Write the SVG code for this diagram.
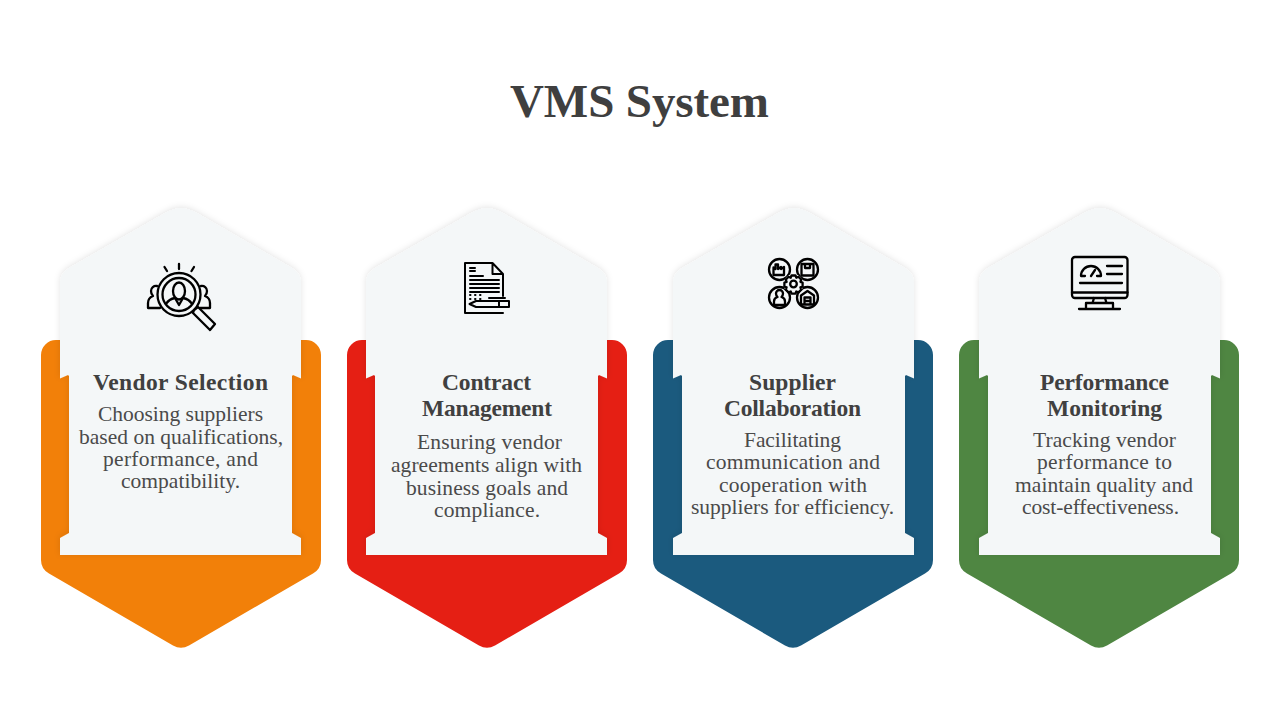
<svg xmlns="http://www.w3.org/2000/svg" xmlns:xlink="http://www.w3.org/1999/xlink" width="1280" height="720" viewBox="0 0 1280 720">
<style>
text{font-family:"Liberation Serif","Times New Roman",serif;text-anchor:middle}
.t{font-size:47px;font-weight:700;fill:#3f3f3f}
.h{font-size:23.5px;font-weight:700;fill:#404040}
.b{font-size:21.5px;fill:#4a4a4a}
.i{fill:none;stroke:#000;stroke-width:2.3;stroke-linecap:round;stroke-linejoin:round}
</style>
<defs>
<filter id="sh" x="-15%" y="-15%" width="130%" height="130%"><feDropShadow dx="0" dy="-1" stdDeviation="3" flood-color="#000" flood-opacity="0.11"/></filter>
<path id="back" d="M41 355a15 15 0 0 1 15-15H306a15 15 0 0 1 15 15V560q0 9-8 13.500L189 645.500q-8 4.500-16 0L49 573.500q-8-4.500-8-13.500Z"/>
<path id="front" d="M166 212.500Q181 204 196 212.500L292 268q9 5.500 9 15V378.500L293 375 292 376V533L301 538V555H60V538L69 533V376L68 375 60 378.500V283q0-9.500 9-15Z"/>
</defs>
<text class="t" x="639.500" y="117" textLength="259">VMS System</text>

<g id="node-vendor-selection">
<use xlink:href="#back" href="#back" fill="#f28009"/>
<use xlink:href="#front" href="#front" fill="#f4f7f8" filter="url(#sh)"/>
<g class="i">
<path d="M179 264v5M164.500 267l2.500 4M194 267l-2.500 4"/>
<circle cx="179" cy="294.500" r="21.500"/><circle cx="179" cy="294.500" r="16.500"/>
<ellipse cx="179" cy="291" rx="6" ry="8.500"/>
<path d="M166 304q3-5 9-6l4 7 4-7q6 1 9 6"/>
<path d="M194 310l4-3 17 17-5 6-17-17Z"/>
<path d="M157 286a5 5 0 0 0-6 5q0 3 2 5q-5 2-5 7v5h12M201 286a5 5 0 0 1 6 5q0 3-2 5q5 2 5 7v5h-10"/>
</g>
<text class="h" x="180.500" y="390" textLength="175">Vendor Selection</text>
<text class="b" x="180.500" y="421" textLength="165">Choosing suppliers</text>
<text class="b" x="181" y="444" textLength="204">based on qualifications,</text>
<text class="b" x="180.500" y="466" textLength="155">performance, and</text>
<text class="b" x="180.500" y="488" textLength="119">compatibility.</text>
</g>

<g id="node-contract-management">
<use xlink:href="#back" href="#back" x="306" fill="#e51f14"/>
<use xlink:href="#front" href="#front" x="306" fill="#f4f7f8" filter="url(#sh)"/>
<g class="i" style="stroke-width:2">
<path d="M492.500 263H465V313H503M503 274V296M492.500 263L503 274H492.500Z"/>
<path d="M470 268h5M470 271h5M470 276h13M470 280h29M470 284h29M470 288h29M470 292h29M470 295h.5M475 295h.5M480 295h.5M470 299h.5M475 299h.5M480 299h.5M489 298h16"/>
<path d="M476 301H509V307H476L469.500 304ZM499 301V307"/>
</g>
<text class="h" x="486.500" y="390" textLength="89">Contract</text>
<text class="h" x="487" y="416" textLength="130">Management</text>
<text class="b" x="489.500" y="449" textLength="145">Ensuring vendor</text>
<text class="b" x="486.500" y="472" textLength="191">agreements align with</text>
<text class="b" x="487" y="495" textLength="162">business goals and</text>
<text class="b" x="487" y="517" textLength="106">compliance.</text>
</g>

<g id="node-supplier-collaboration">
<use xlink:href="#back" href="#back" x="612" fill="#1b5a7e"/>
<use xlink:href="#front" href="#front" x="613" fill="#f4f7f8" filter="url(#sh)"/>
<g class="i">
<circle cx="779.500" cy="269.500" r="10.500"/><circle cx="807.500" cy="269.500" r="10.500"/>
<circle cx="779.500" cy="297.500" r="10.500"/><circle cx="807.500" cy="297.500" r="10.500"/>
<path d="M773.500 275v-7.500l2 1.500v-4.500h2.500V269l3-2v2l3-2v8ZM801.500 264h12v11.500h-12ZM805 264v4h5v-4"/>
<path d="M774 305v-3.500q0-3.500 3.500-4.500q-1.500-1.500-1.500-3.500a3.500 3.500 0 0 1 7 0q0 2-1.500 3.500q3.500 1 3.500 4.500v3.500Z"/>
<path d="M801 304.500v-9l6.500-4.500 6.500 4.500v9ZM804.500 304.500v-7h6v7M804.500 301h6"/>
<circle cx="793.500" cy="284" r="10" fill="#f4f7f8" stroke="none"/>
<path d="M791.500 275.500h4l.8 2.200 2.200-.9 2.800 2.800-.9 2.200 2.200.8v4l-2.200.8.900 2.200-2.800 2.800-2.200-.9-.8 2.200h-4l-.8-2.200-2.200.9-2.800-2.800.9-2.200-2.200-.8v-4l2.200-.8-.9-2.200 2.800-2.800 2.200.9Z"/>
<circle cx="793.500" cy="284" r="3.300"/>
</g>
<text class="h" x="792.500" y="390" textLength="87">Supplier</text>
<text class="h" x="792.500" y="416" textLength="137">Collaboration</text>
<text class="b" x="792.500" y="447" textLength="97">Facilitating</text>
<text class="b" x="793" y="469" textLength="174">communication and</text>
<text class="b" x="793" y="492" textLength="148">cooperation with</text>
<text class="b" x="792.500" y="514" textLength="203">suppliers for efficiency.</text>
</g>

<g id="node-performance-monitoring">
<use xlink:href="#back" href="#back" x="918" fill="#4f8642"/>
<use xlink:href="#front" href="#front" x="919" fill="#f4f7f8" filter="url(#sh)"/>
<g class="i">
<rect x="1072" y="257" width="55.500" height="41" rx="3"/>
<path d="M1072 292.500h55.500M1081 276a10 10 0 0 1 20 0H1097M1081 276h4M1091 276l4-6M1107 266h15M1107 274h15M1080 283h42"/>
<path d="M1094 298l-1.500 5M1105 298l1.500 5M1086 308v-5h27v5M1079 309h41"/>
</g>
<text class="h" x="1104.500" y="390" textLength="129">Performance</text>
<text class="h" x="1104.500" y="416" textLength="115">Monitoring</text>
<text class="b" x="1104.500" y="447" textLength="143">Tracking vendor</text>
<text class="b" x="1104.500" y="469" textLength="135">performance to</text>
<text class="b" x="1104" y="492" textLength="178">maintain quality and</text>
<text class="b" x="1100.500" y="514" textLength="157">cost-effectiveness.</text>
</g>
</svg>
